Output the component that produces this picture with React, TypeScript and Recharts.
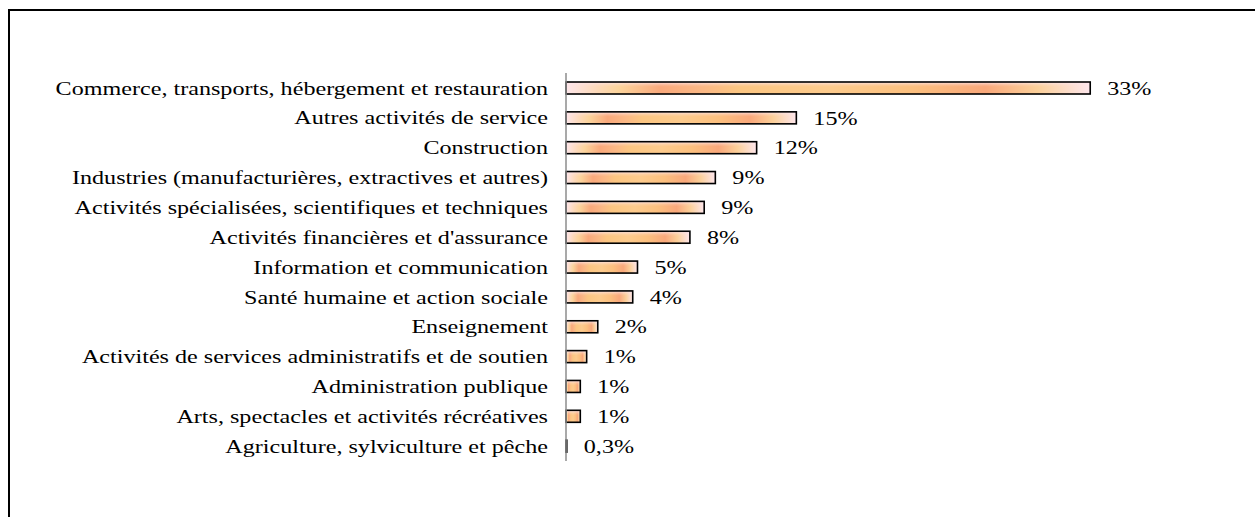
import React from "react";
import { BarChart, Bar, XAxis, YAxis, LabelList } from "recharts";

const categories = [
  "Commerce, transports, hébergement et restauration",
  "Autres activités de service",
  "Construction",
  "Industries (manufacturières, extractives et autres)",
  "Activités spécialisées, scientifiques et techniques",
  "Activités financières et d'assurance",
  "Information et communication",
  "Santé humaine et action sociale",
  "Enseignement",
  "Activités de services administratifs et de soutien",
  "Administration publique",
  "Arts, spectacles et activités récréatives",
  "Agriculture, sylviculture et pêche",
];

const values = [33, 14.5, 12, 9.4, 8.7, 7.8, 4.5, 4.2, 2, 1.3, 0.9, 0.9, 0.05];

const valueLabels = ["33%", "15%", "12%", "9%", "9%", "8%", "5%", "4%", "2%", "1%", "1%", "1%", "0,3%"];

const data = categories.map((name, i) => ({ name, value: values[i], label: valueLabels[i] }));

const FONT = "'Liberation Serif', 'Times New Roman', serif";
const SX = 1.27;
const FS = 19;

const BarShape = (props: any) => {
  const { x, y, width, height } = props;
  if (width <= 0.5) return <g />;
  return (
    <g>
      <rect x={x} y={y} width={width} height={height} fill="url(#barH)" />
      <rect x={x} y={y} width={width} height={height} fill="url(#barV)" />
      <rect x={x} y={y} width={width} height={height} fill="none" stroke="#000" strokeWidth={1.6} />
    </g>
  );
};

const YTick = (props: any) => {
  const { x, y, payload } = props;
  return (
    <text
      transform={`translate(${x - 10},${y}) scale(${SX},1)`}
      textAnchor="end"
      dy="0.35em"
      fontFamily={FONT}
      fontSize={FS}
      fill="#000"
    >
      {payload.value}
    </text>
  );
};

const ValueLabel = (props: any) => {
  const { x, y, width, height, value } = props;
  return (
    <text
      transform={`translate(${x + width + 17},${y + height / 2}) scale(${SX},1)`}
      textAnchor="start"
      dy="0.35em"
      fontFamily={FONT}
      fontSize={FS}
      fill="#000"
    >
      {value}
    </text>
  );
};

export default function App() {
  return (
    <div
      style={{
        position: "fixed",
        top: 9,
        left: 8,
        width: 1245,
        height: 506,
        borderTop: "2px solid #000",
        borderLeft: "2px solid #000",
        background: "#fff",
        overflow: "hidden",
      }}
    >
      <BarChart
        width={1245}
        height={496}
        data={data}
        layout="vertical"
        margin={{ top: 62, right: 133, bottom: 46, left: 0 }}
        barCategoryGap={0}
      >
        <defs>
          <linearGradient id="barH" x1="0" y1="0" x2="1" y2="0">
            <stop offset="0" stopColor="#fde6ea" />
            <stop offset="0.06" stopColor="#fdd9b8" />
            <stop offset="0.1" stopColor="#fcd49c" />
            <stop offset="0.18" stopColor="#f9a97c" />
            <stop offset="0.26" stopColor="#fbb885" />
            <stop offset="0.33" stopColor="#fcc682" />
            <stop offset="0.5" stopColor="#fdcb8d" />
            <stop offset="0.66" stopColor="#fcc07f" />
            <stop offset="0.8" stopColor="#f9a87b" />
            <stop offset="0.9" stopColor="#fcd09a" />
            <stop offset="1" stopColor="#fde6ec" />
          </linearGradient>
          <linearGradient id="barV" x1="0" y1="0" x2="0" y2="1">
            <stop offset="0" stopColor="#fde4ea" stopOpacity={0.9} />
            <stop offset="0.25" stopColor="#fde4ea" stopOpacity={0.2} />
            <stop offset="0.4" stopColor="#fde4ea" stopOpacity={0} />
            <stop offset="1" stopColor="#fde4ea" stopOpacity={0} />
          </linearGradient>
        </defs>
        <XAxis type="number" domain={[0, 35]} hide />
        <YAxis
          type="category"
          dataKey="name"
          width={556}
          tickLine={false}
          axisLine={{ stroke: "#8c8c8c", strokeWidth: 1.5 }}
          tick={<YTick />}
          interval={0}
        />
        <Bar dataKey="value" barSize={12} shape={<BarShape />} isAnimationActive={false}>
          <LabelList dataKey="label" content={<ValueLabel />} />
        </Bar>
      </BarChart>
    </div>
  );
}
